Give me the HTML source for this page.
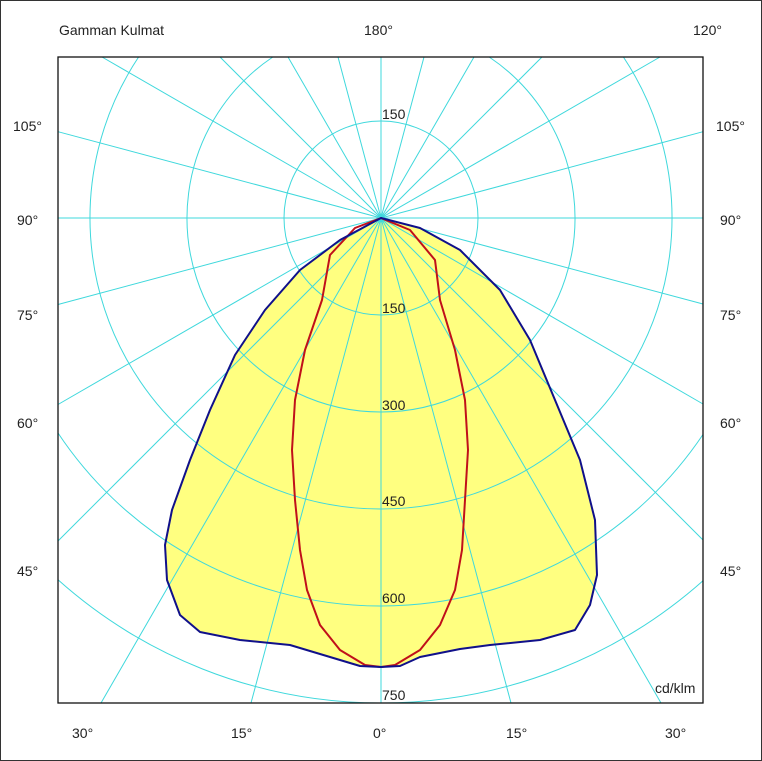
<!DOCTYPE html><html><head><style>html,body{margin:0;padding:0;background:#fff;width:762px;height:761px;overflow:hidden}svg{display:block}text{font-family:"Liberation Sans",Arial,sans-serif;font-size:14px;fill:#222}</style></head><body>
<svg width="762" height="761" viewBox="0 0 762 761">
<rect x="0.5" y="0.5" width="761" height="760" fill="#fff" stroke="#333"/>
<polygon fill="#ffff80" points="381,218 420,228 460,250 500,290 530,340 555,400 580,460 595,520 597,575 590,605 575,630 540,640 490,645 460,649 420,657 400,666 381,667 360,666 340,660 290,645 240,640 200,632 180,615 167,580 165,545 172,510 190,460 210,410 235,355 265,310 300,270 340,240"/>
<g stroke="#3fd8dc" stroke-width="1" fill="none">
<circle cx="381" cy="218" r="97"/>
<path d="M272.8,57 A194,194 0 1,0 489.2,57"/>
<path d="M138.6,57 A291,291 0 1,0 623.4,57"/>
<path d="M58,433 A388,388 0 0,0 703,434.5"/>
<path d="M58,579.8 A485,485 0 0,0 703,580.7"/>
<path d="M381,218 L381,703 M381,218 L511,703 M381,218 L251,703 M381,218 L661,703 M381,218 L101,703 M381,218 L703,540 M381,218 L58,541 M381,218 L703,404 M381,218 L58,404.5 M381,218 L703,304 M381,218 L58,304.5 M381,218 L703,218 M381,218 L58,218 M381,218 L381,57 M381,218 L424,57 M381,218 L338,57 M381,218 L474,57 M381,218 L288,57 M381,218 L542,57 M381,218 L220,57 M381,218 L660,57 M381,218 L102,57 M381,218 L703,131.7 M381,218 L58,131.7"/>
</g>
<polyline fill="none" stroke="#c0101a" stroke-width="2" stroke-linejoin="round" points="381,218 410,230 435,260 440,300 455,350 465,400 468,450 465,500 462,550 455,590 440,625 420,650 395,665 381,667 365,665 340,650 320,625 307,590 300,550 295,500 292,450 295,400 305,350 322,300 330,255 355,228 381,218"/>
<polygon fill="none" stroke="#10108a" stroke-width="2" stroke-linejoin="round" points="381,218 420,228 460,250 500,290 530,340 555,400 580,460 595,520 597,575 590,605 575,630 540,640 490,645 460,649 420,657 400,666 381,667 360,666 340,660 290,645 240,640 200,632 180,615 167,580 165,545 172,510 190,460 210,410 235,355 265,310 300,270 340,240"/>
<rect x="58" y="57" width="645" height="646" fill="none" stroke="#111" stroke-width="1.3"/>
<text x="59" y="35">Gamman Kulmat</text>
<text x="364" y="35">180°</text><text x="693" y="35">120°</text>
<text x="13" y="131">105°</text><text x="716" y="131">105°</text>
<text x="17" y="225">90°</text><text x="720" y="225">90°</text>
<text x="17" y="320">75°</text><text x="720" y="320">75°</text>
<text x="17" y="428">60°</text><text x="720" y="428">60°</text>
<text x="17" y="576">45°</text><text x="720" y="576">45°</text>
<text x="72" y="738">30°</text><text x="231" y="738">15°</text><text x="373" y="738">0°</text><text x="506" y="738">15°</text><text x="665" y="738">30°</text>
<text x="382" y="119">150</text><text x="382" y="313">150</text><text x="382" y="410">300</text><text x="382" y="506">450</text><text x="382" y="603">600</text><text x="382" y="700">750</text>
<text x="655" y="693">cd/klm</text>
</svg></body></html>
